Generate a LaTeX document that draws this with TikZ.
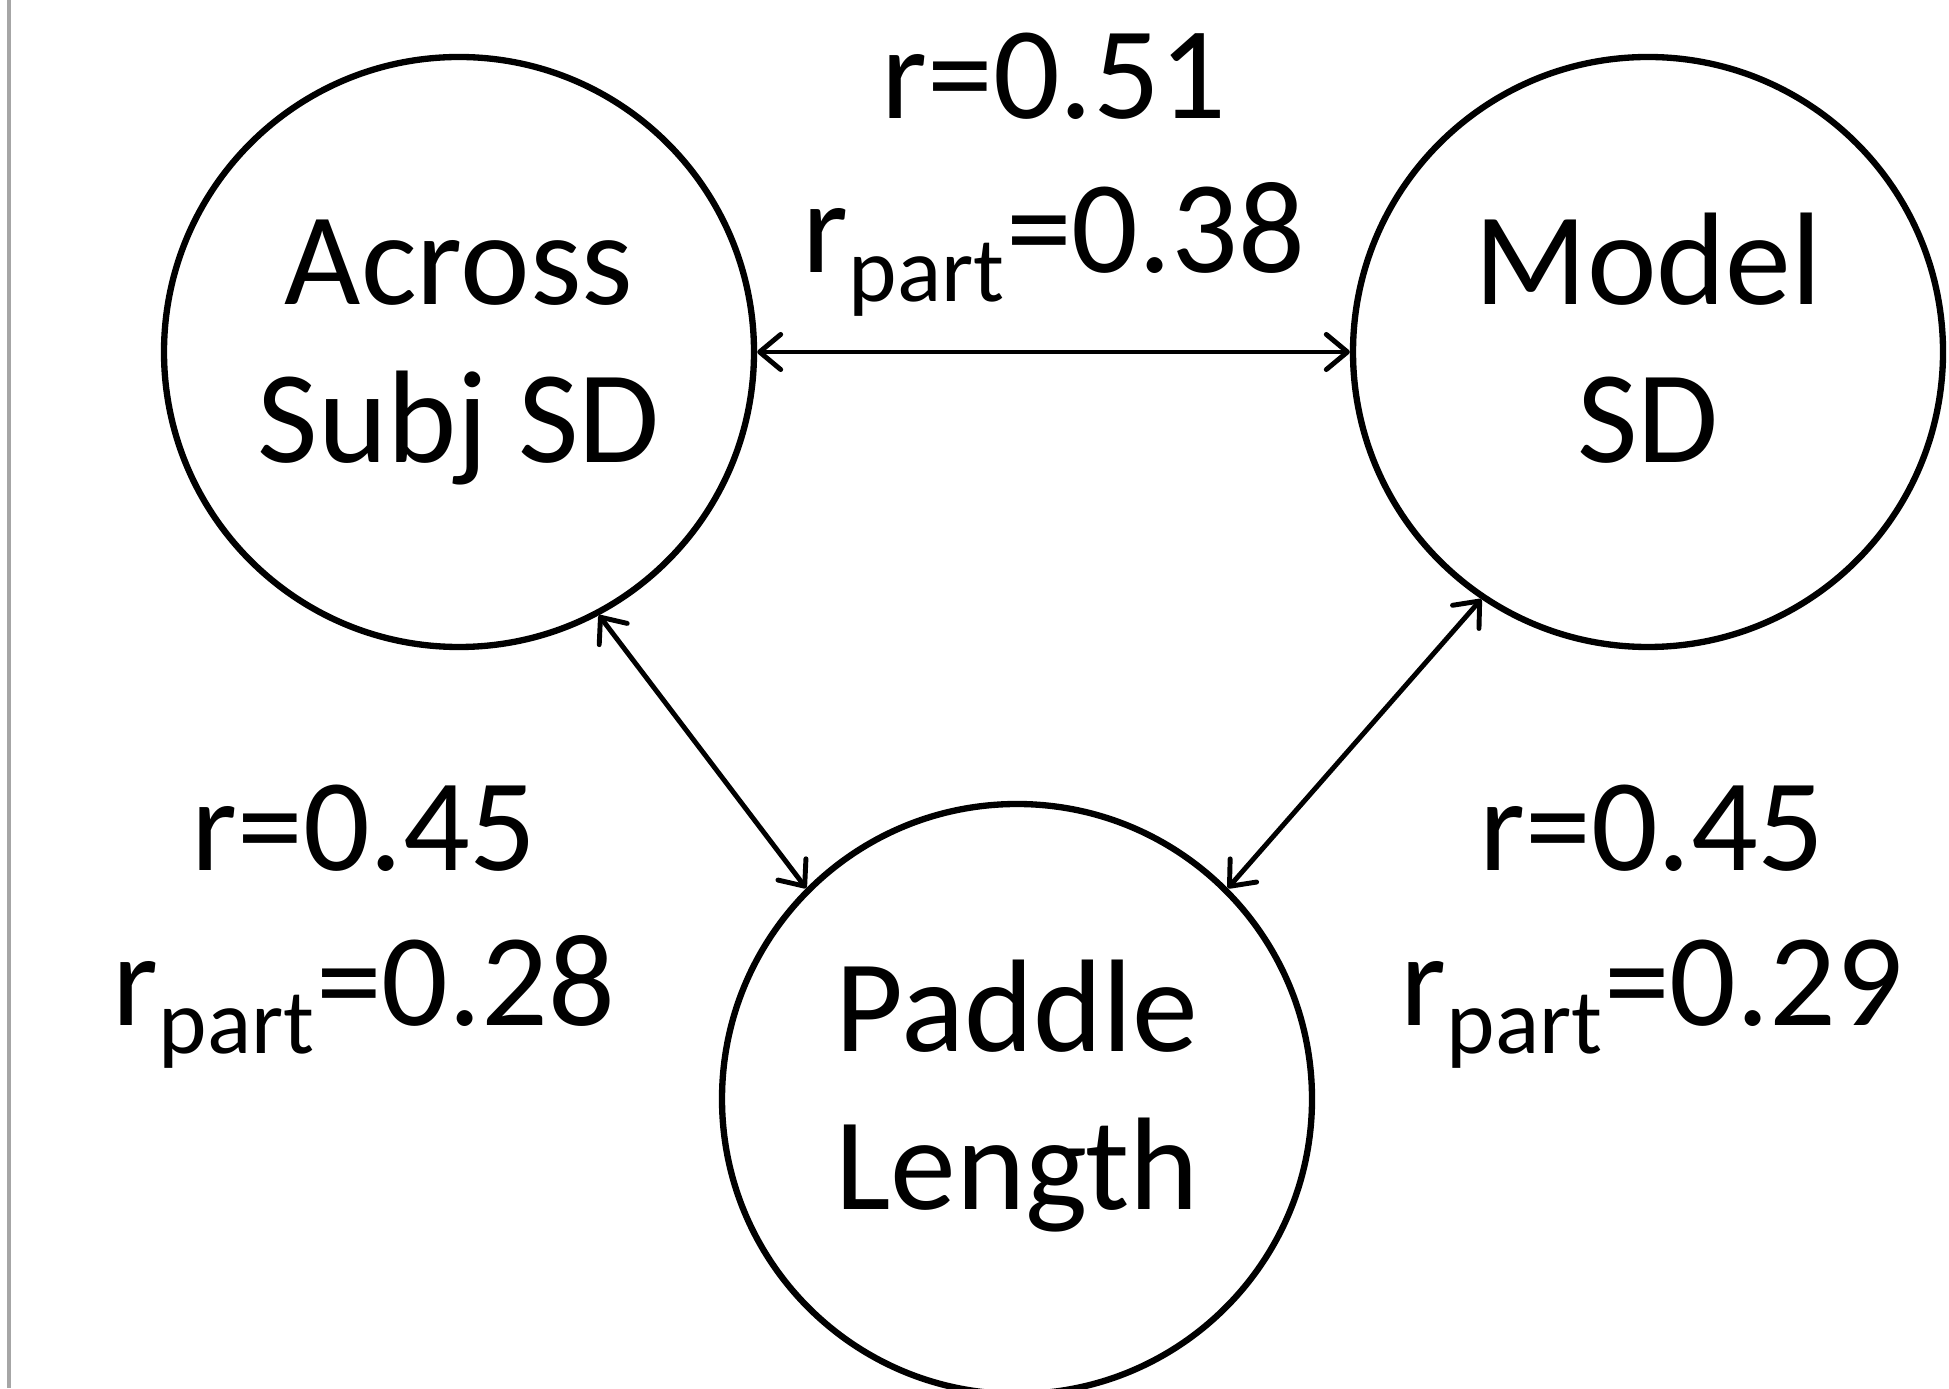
\documentclass[tikz,border=0pt]{standalone}
\usepackage{fontspec}
\setmainfont{Carlito}
\usetikzlibrary{arrows.meta}
\begin{document}
\begin{tikzpicture}[
    var/.style={circle,draw,line width=1.8pt,minimum size=5.9cm,inner sep=0pt,
      align=center,font=\fontsize{37.5}{45}\selectfont},
    corr/.style={align=center,anchor=base,font=\fontsize{37.5}{44}\selectfont},
    link/.style={line width=1.4pt,line cap=round,
      {Straight Barb[length=6pt,width=10pt,round]}-{Straight Barb[length=6pt,width=10pt,round]}}
  ]
  \useasboundingbox (0,0) rectangle (19.49,13.88);
  \draw[gray!70,line width=1.2pt] (0.09,0) -- (0.09,13.88);
  \node[var] (across) at (4.59,10.36) {\strut Across\\\strut Subj SD};
  \node[var] (model) at (16.48,10.36) {\strut Model\\\strut SD};
  \node[var] (paddle) at (10.17,2.89) {\strut Paddle\\\strut Length};
  \node[corr] (am) at (10.54,11.15) {r=0.51\\r\textsubscript{part}=0.38};
  \node[corr] (ap) at (3.64,3.63) {r=0.45\\r\textsubscript{part}=0.28};
  \node[corr] (mp) at (16.52,3.63) {r=0.45\\r\textsubscript{part}=0.29};
  \begin{scope}[link]
    \draw (across.east) to (model.west);
    \draw (across.-62.6) to (paddle.135);
    \draw (paddle.45) to (model.-124);
  \end{scope}
\end{tikzpicture}
\end{document}
